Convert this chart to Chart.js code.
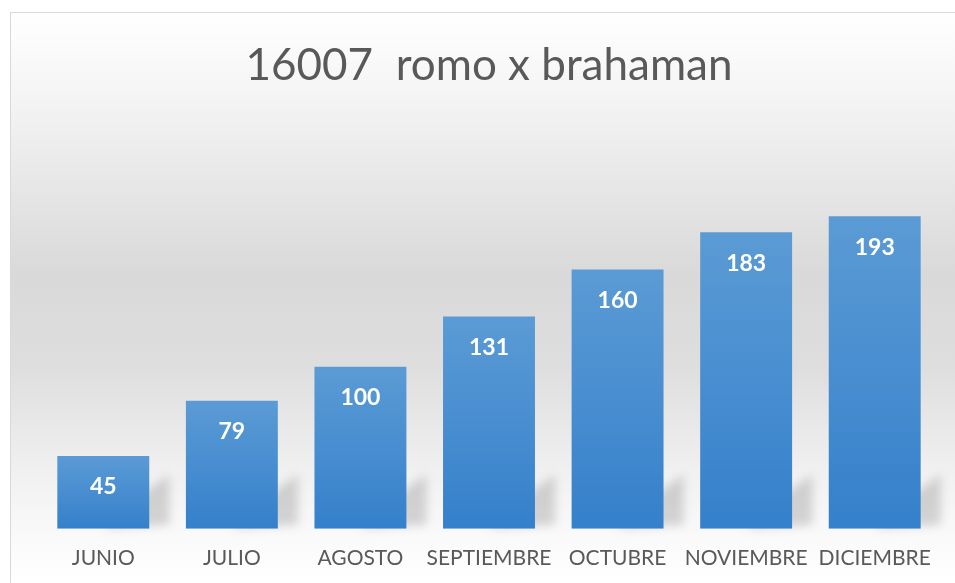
<!DOCTYPE html>
<html>
<head>
<meta charset="utf-8">
<script src="https://cdn.jsdelivr.net/npm/chart.js@4/dist/chart.umd.min.js"></script>
<style>
  html, body { margin: 0; padding: 0; background: #fff; }
  #wrap { width: 955px; height: 583px; }
</style>
</head>
<body>
<div id="wrap"><canvas id="chart" width="955" height="583"></canvas></div>
<script>
const months = ['JUNIO', 'JULIO', 'AGOSTO', 'SEPTIEMBRE', 'OCTUBRE', 'NOVIEMBRE', 'DICIEMBRE'];
const weights = [45, 79, 100, 131, 160, 183, 193];
const chartTitle = '16007  romo x brahaman';

const FONT = 'Lato, "Open Sans", sans-serif';

// backdrop: thin border and the grey vertical wash
const backdrop = {
  id: 'backdrop',
  beforeDraw(chart) {
    const { ctx, width, height } = chart;
    ctx.save();
    ctx.fillStyle = '#ffffff';
    ctx.fillRect(0, 0, width, height);
    const g = ctx.createLinearGradient(0, 13, 0, height);
    g.addColorStop(0, '#ffffff');
    g.addColorStop(0.15, '#f4f4f4');
    g.addColorStop(0.46, '#d9d9d9');
    g.addColorStop(0.62, '#dedede');
    g.addColorStop(0.80, '#f0f0f0');
    g.addColorStop(0.91, '#f9f9f9');
    g.addColorStop(1, '#ffffff');
    ctx.fillStyle = g;
    ctx.fillRect(11, 13, width - 11, height - 13);
    ctx.strokeStyle = '#d9d9d9';
    ctx.lineWidth = 1;
    ctx.strokeRect(10.5, 12.5, width + 10, height + 10);
    ctx.restore();
  },
  beforeDatasetsDraw(chart) {
    // soft cast shadow to the back-right of each bar
    const { ctx } = chart;
    const meta = chart.getDatasetMeta(0);
    ctx.save();
    ctx.filter = 'blur(5px)';
    ctx.fillStyle = 'rgba(0,0,0,0.15)';
    meta.data.forEach((bar) => {
      const half = bar.width / 2;
      const xr = bar.x + half;
      const h = Math.min(bar.base - bar.y, 40);
      ctx.beginPath();
      ctx.moveTo(bar.x, bar.base);
      ctx.lineTo(xr, bar.base - h);
      ctx.lineTo(xr + 20, bar.base - h - 14);
      ctx.lineTo(xr + 20, bar.base - 4);
      ctx.closePath();
      ctx.fill();
    });
    ctx.restore();
  },
};

const valueLabels = {
  id: 'valueLabels',
  afterDatasetsDraw(chart) {
    const { ctx } = chart;
    const meta = chart.getDatasetMeta(0);
    ctx.save();
    ctx.fillStyle = '#ffffff';
    ctx.font = 'bold 23px ' + FONT;
    ctx.textAlign = 'center';
    ctx.textBaseline = 'middle';
    meta.data.forEach((bar, i) => {
      ctx.fillText(String(weights[i]), bar.x, bar.y + 31);
    });
    ctx.restore();
  },
};

function barFill(context) {
  const chart = context.chart;
  const y = chart.scales.y;
  if (!y || context.dataIndex === undefined) return '#4a8fd2';
  const top = y.getPixelForValue(weights[context.dataIndex]);
  const base = y.getPixelForValue(0);
  if (!isFinite(top) || !isFinite(base) || top === base) return '#4a8fd2';
  const g = chart.ctx.createLinearGradient(0, top, 0, base);
  g.addColorStop(0, '#5b9bd5');
  g.addColorStop(1, '#3580cb');
  return g;
}

new Chart(document.getElementById('chart'), {
  type: 'bar',
  data: {
    labels: months,
    datasets: [{
      label: chartTitle,
      data: weights,
      backgroundColor: barFill,
      borderWidth: 0,
      categoryPercentage: 1,
      barPercentage: 0.715,
    }],
  },
  options: {
    responsive: false,
    animation: false,
    layout: { padding: { left: 39, right: 16, top: 0, bottom: -5 } },
    scales: {
      x: {
        grid: { display: false, drawTicks: false },
        border: { display: false },
        ticks: {
          color: '#595959',
          font: { family: FONT, size: 21 },
          padding: 17,
          maxRotation: 0,
          autoSkip: false,
        },
      },
      y: {
        display: false,
        min: 0,
        max: 200,
      },
    },
    plugins: {
      legend: { display: false },
      tooltip: { enabled: false },
      title: {
        display: true,
        text: chartTitle,
        color: '#595959',
        font: { family: FONT, size: 44, weight: 'normal' },
        padding: { top: 39, bottom: 113 },
      },
    },
  },
  plugins: [backdrop, valueLabels],
});
</script>
</body>
</html>
